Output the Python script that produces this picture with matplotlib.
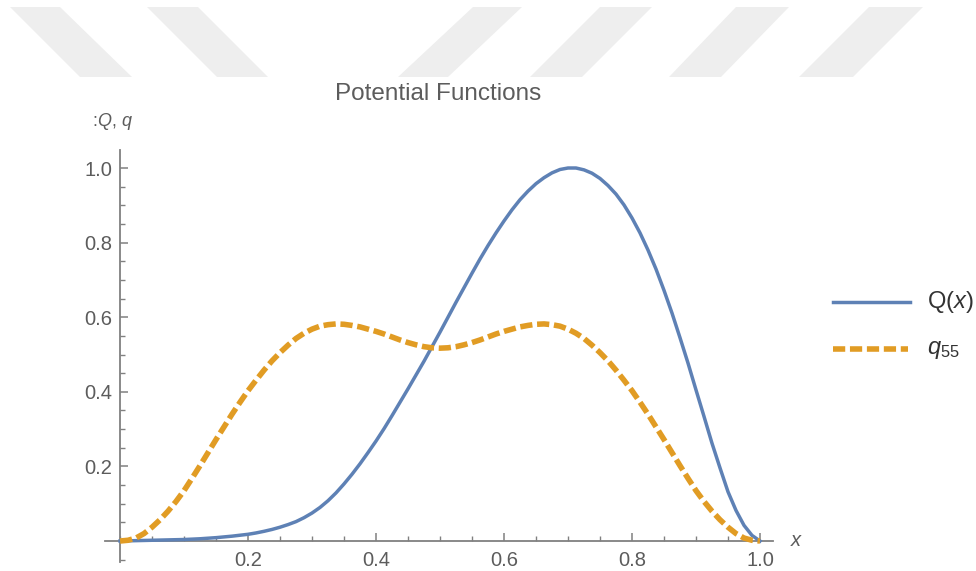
import matplotlib
matplotlib.use("Agg")
import matplotlib.pyplot as plt
from matplotlib.patches import Polygon
from matplotlib.lines import Line2D
from matplotlib.ticker import FixedLocator, MultipleLocator, FormatStrFormatter

plt.rcParams['font.family'] = ['Liberation Sans', 'DejaVu Sans']
plt.rcParams['mathtext.fontset'] = 'custom'
plt.rcParams['mathtext.rm'] = 'Liberation Sans'
plt.rcParams['mathtext.it'] = 'Liberation Sans:italic'

# ---- data -------------------------------------------------------------
x_vals = [0.0000, 0.0125, 0.0250, 0.0375, 0.0500, 0.0625, 0.0750, 0.0875,
          0.1000, 0.1125, 0.1250, 0.1375, 0.1500, 0.1625, 0.1750, 0.1875,
          0.2000, 0.2125, 0.2250, 0.2375, 0.2500, 0.2625, 0.2750, 0.2875,
          0.3000, 0.3125, 0.3250, 0.3375, 0.3500, 0.3625, 0.3750, 0.3875,
          0.4000, 0.4125, 0.4250, 0.4375, 0.4500, 0.4625, 0.4750, 0.4875,
          0.5000, 0.5125, 0.5250, 0.5375, 0.5500, 0.5625, 0.5750, 0.5875,
          0.6000, 0.6125, 0.6250, 0.6375, 0.6500, 0.6625, 0.6750, 0.6875,
          0.7000, 0.7125, 0.7250, 0.7375, 0.7500, 0.7625, 0.7750, 0.7875,
          0.8000, 0.8125, 0.8250, 0.8375, 0.8500, 0.8625, 0.8750, 0.8875,
          0.9000, 0.9125, 0.9250, 0.9375, 0.9500, 0.9625, 0.9750, 0.9875,
          1.0000]

Q_vals = [0.000, 0.0005, 0.001, 0.0015, 0.002, 0.0025, 0.003, 0.0035,
          0.004, 0.005, 0.006, 0.0075, 0.009, 0.011, 0.013, 0.0155,
          0.018, 0.0216, 0.026, 0.031, 0.037, 0.044, 0.052, 0.0625,
          0.075, 0.090, 0.108, 0.129, 0.153, 0.179, 0.207, 0.237,
          0.268, 0.301, 0.336, 0.372, 0.408, 0.445, 0.482, 0.521,
          0.560, 0.600, 0.640, 0.679, 0.718, 0.756, 0.792, 0.826,
          0.858, 0.888, 0.915, 0.938, 0.958, 0.974, 0.987, 0.996,
          1.000, 1.000, 0.995, 0.986, 0.972, 0.953, 0.930, 0.901,
          0.866, 0.826, 0.780, 0.729, 0.672, 0.611, 0.545, 0.477,
          0.405, 0.334, 0.262, 0.196, 0.132, 0.082, 0.042, 0.015,
          0.000]

q55_vals = [0.000, 0.002, 0.008, 0.020, 0.037, 0.057, 0.080, 0.106,
            0.135, 0.168, 0.202, 0.237, 0.272, 0.306, 0.340, 0.372,
            0.403, 0.431, 0.458, 0.483, 0.505, 0.525, 0.543, 0.557,
            0.568, 0.576, 0.580, 0.582, 0.581, 0.578, 0.574, 0.568,
            0.562, 0.555, 0.547, 0.539, 0.532, 0.526, 0.521, 0.518,
            0.517, 0.518, 0.521, 0.526, 0.532, 0.539, 0.547, 0.555,
            0.562, 0.568, 0.574, 0.578, 0.581, 0.582, 0.580, 0.576,
            0.568, 0.557, 0.543, 0.525, 0.505, 0.483, 0.458, 0.431,
            0.403, 0.372, 0.340, 0.306, 0.272, 0.237, 0.202, 0.168,
            0.135, 0.106, 0.080, 0.057, 0.037, 0.020, 0.008, 0.002,
            0.000]

x_ticks = [0.2, 0.4, 0.6, 0.8, 1.0]
y_ticks = [0.2, 0.4, 0.6, 0.8, 1.0]

title_text = "Potential Functions"
series_labels = ["Q($x$)", "$q_{55}$"]

# ---- styling ----------------------------------------------------------
W, H = 976, 571
BLUE = "#5E81B5"
ORANGE = "#E19C24"
AXIS = "#808080"
TEXT = "#5c5c5c"

fig = plt.figure(figsize=(W / 100, H / 100), dpi=100)
fig.patch.set_facecolor("white")


def px(x, y):
    """pixel position (from top-left) -> figure fraction"""
    return (x / W, 1 - y / H)


# light diagonal banner across the top
stripes = [
    [(10, 7), (60, 7), (132, 77), (80, 77)],
    [(147, 7), (198, 7), (268, 77), (217, 77)],
    [(473, 7), (522, 7), (448, 77), (398, 77)],
    [(600, 7), (652, 7), (582, 77), (530, 77)],
    [(736, 7), (789, 7), (721, 77), (669, 77)],
    [(869, 7), (923, 7), (853, 77), (799, 77)],
]
for pts in stripes:
    fig.patches.append(Polygon([px(a, b) for a, b in pts], closed=True,
                               transform=fig.transFigure, facecolor="#eeeeee",
                               edgecolor="none", zorder=0))

# ---- axes -------------------------------------------------------------
ax = fig.add_axes([105.3 / W, (H - 561.9) / H, 667.5 / W, 411.8 / H])
ax.patch.set_alpha(0)
ax.set_xlim(-0.023, 1.02)
ax.set_ylim(-0.056, 1.048)

for side in ("top", "right"):
    ax.spines[side].set_visible(False)
for side in ("left", "bottom"):
    ax.spines[side].set_position(("data", 0))
    ax.spines[side].set_color(AXIS)
    ax.spines[side].set_linewidth(1.3)

ax.xaxis.set_major_locator(FixedLocator(x_ticks))
ax.yaxis.set_major_locator(FixedLocator(y_ticks))
ax.xaxis.set_minor_locator(MultipleLocator(0.05))
ax.yaxis.set_minor_locator(MultipleLocator(0.05))
ax.xaxis.set_major_formatter(FormatStrFormatter("%.1f"))
ax.yaxis.set_major_formatter(FormatStrFormatter("%.1f"))

ax.tick_params(which="major", direction="in", length=6, width=1.1,
               color=AXIS, labelsize=14.5, labelcolor=TEXT)
ax.tick_params(which="minor", direction="in", length=3.5, width=1.0,
               color=AXIS)
ax.tick_params(axis="x", which="major", pad=7)
ax.tick_params(axis="y", which="major", pad=5.5)

ax.plot(x_vals, Q_vals, color=BLUE, lw=2.5, solid_joinstyle="round",
        zorder=3)
ax.plot(x_vals, q55_vals, color=ORANGE, lw=4.0, dashes=(2.2, 0.85),
        dash_capstyle="butt", dash_joinstyle="round", zorder=3)

# ---- texts ------------------------------------------------------------
fig.text(*px(438, 94), title_text, ha="center", va="center",
         fontsize=17.5, color=TEXT)
fig.text(*px(797, 541), "$x$", ha="center", va="center",
         fontsize=14.5, color=TEXT)
fig.text(*px(92, 122), ":$Q$, $q$", ha="left", va="center",
         fontsize=13, color=TEXT)

# ---- legend -----------------------------------------------------------
fig.add_artist(Line2D([833 / W, 910 / W], [1 - 302 / H] * 2,
                      transform=fig.transFigure, color=BLUE, lw=2.5))
fig.add_artist(Line2D([833 / W, 908 / W], [1 - 349 / H] * 2,
                      transform=fig.transFigure, color=ORANGE, lw=4.0,
                      dashes=(2.2, 0.85), dash_capstyle="butt"))
fig.text(*px(927, 302), series_labels[0], ha="left", va="center",
         fontsize=17, color="#333333")
fig.text(*px(927, 350), series_labels[1], ha="left", va="center",
         fontsize=17, color="#333333")

fig.savefig("out.png", dpi=100)
